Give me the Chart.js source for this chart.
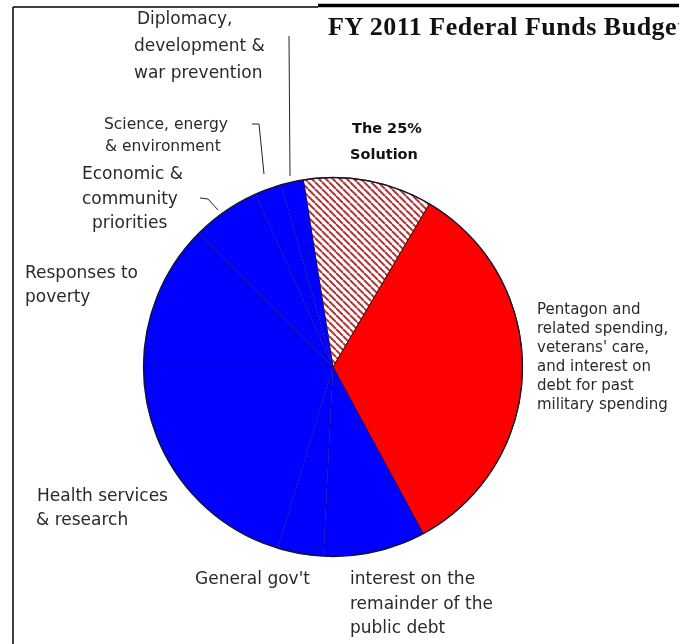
<!DOCTYPE html>
<html>
<head>
<meta charset="utf-8">
<script src="https://cdn.jsdelivr.net/npm/chart.js@4/dist/chart.umd.min.js"></script>
<style>
  html, body { margin: 0; padding: 0; background: #fff; }
  #wrap { position: relative; width: 679px; height: 644px; overflow: hidden; }
  #pie { position: absolute; left: 0; top: 0; }
  .lbl { position: absolute; font-family: "DejaVu Sans", Verdana, sans-serif; color: #2a2a2a; line-height: 20px; white-space: nowrap; }
  .bold { font-weight: bold; color: #111; }
  #title { position: absolute; left: 328px; top: 12px; font: bold 26px "Liberation Serif", "Times New Roman", serif; color: #111; white-space: nowrap; letter-spacing: 0.5px; }
  svg { position: absolute; left: 0; top: 0; }
</style>
</head>
<body>
<div id="wrap">
  <canvas id="pie" width="679" height="644"></canvas>
  <svg width="679" height="644">
    <!-- frame -->
    <line x1="13" y1="7" x2="318" y2="7" stroke="#000" stroke-width="1.5"/>
    <line x1="13" y1="7" x2="13" y2="644" stroke="#000" stroke-width="1.5"/>
    <line x1="318" y1="5.5" x2="679" y2="5.5" stroke="#000" stroke-width="3.5"/>
    <!-- leader lines -->
    <polyline points="289,36 290,176" fill="none" stroke="#222" stroke-width="1"/>
    <polyline points="252,124 259,124 264,174" fill="none" stroke="#222" stroke-width="1"/>
    <polyline points="200,198 208,199 218,210" fill="none" stroke="#222" stroke-width="1"/>
  </svg>
  <div id="title">FY 2011 Federal Funds Budget</div>
  <div id="labels"></div>
</div>
<script>
// budget shares, clockwise from the hatched wedge (percent of federal funds)
const categories = [
  'The 25% Solution',
  "Pentagon and related spending, veterans' care, and interest on debt for past military spending",
  'Interest on the remainder of the public debt',
  "General gov't",
  'Health services & research',
  'Responses to poverty',
  'Economic & community priorities',
  'Science, energy & environment',
  'Diplomacy, development & war prevention'
];
const shares = [11.0, 33.6, 8.7, 3.9, 20.3, 12.5, 5.8, 2.3, 1.9];

// label text lines: [text, left, y-center, font px, bold?]
const labelLines = [
  ['Diplomacy,', 137, 18, 17],
  ['development &', 134, 45, 17],
  ['war prevention', 134, 72, 17],
  ['Science, energy', 104, 124, 15.5],
  ['& environment', 105, 146, 15.5],
  ['The 25%', 352, 128, 14.5, true],
  ['Solution', 350, 154, 14.5, true],
  ['Economic &', 82, 173, 17],
  ['community', 82, 198, 17],
  ['priorities', 92, 222, 17],
  ['Responses to', 25, 272, 17],
  ['poverty', 25, 296, 17],
  ['Health services', 37, 495, 17],
  ['& research', 36, 519, 17],
  ["General gov't", 195, 578, 17],
  ['interest on the', 350, 578, 17],
  ['remainder of the', 350, 603, 17],
  ['public debt', 350, 627, 17],
  ['Pentagon and', 537, 309, 15],
  ['related spending,', 537, 328, 15],
  ["veterans' care,", 537, 347, 15],
  ['and interest on', 537, 366, 15],
  ['debt for past', 537, 385, 15],
  ['military spending', 537, 404, 15]
];

const box = document.getElementById('labels');
labelLines.forEach(([t, x, y, fs, b]) => {
  const d = document.createElement('div');
  d.className = 'lbl' + (b ? ' bold' : '');
  d.textContent = t;
  d.style.fontSize = fs + 'px';
  d.style.left = x + 'px';
  d.style.top = (y - 10) + 'px';
  box.appendChild(d);
});

// hatch pattern for the 25% wedge
const makeHatch = () => {
  const n = 7;
  const c = document.createElement('canvas');
  c.width = n; c.height = n;
  const g = c.getContext('2d');
  g.fillStyle = '#fff';
  g.fillRect(0, 0, n, n);
  g.strokeStyle = '#b03838';
  g.lineWidth = 2;
  [-n, 0, n].forEach(k => {
    g.beginPath();
    g.moveTo(k, 0);
    g.lineTo(k + n, n);
    g.stroke();
  });
  return g.createPattern(c, 'repeat');
};

const ctx = document.getElementById('pie').getContext('2d');
const fills = [makeHatch(), '#ff0000', '#0000ff', '#0000ff', '#0000ff', '#0000ff', '#0000ff', '#0000ff', '#0000ff'];
const blueEdge = 'rgba(0,0,110,0.3)';
const edges = ['#3a1010', '#3a1010', blueEdge, blueEdge, blueEdge, blueEdge, blueEdge, blueEdge, blueEdge];

// dark outline round the whole pie
const outline = {
  id: 'outline',
  afterDatasetsDraw(chart) {
    const arc = chart.getDatasetMeta(0).data[0];
    if (!arc) return;
    const c = chart.ctx;
    c.save();
    c.beginPath();
    c.arc(arc.x, arc.y, arc.outerRadius, 0, Math.PI * 2);
    c.strokeStyle = '#15152a';
    c.lineWidth = 1.3;
    c.stroke();
    c.restore();
  }
};

new Chart(ctx, {
  type: 'pie',
  data: {
    labels: categories,
    datasets: [{
      data: shares,
      backgroundColor: fills,
      borderColor: edges,
      borderWidth: 1
    }]
  },
  options: {
    responsive: false,
    animation: false,
    rotation: -9,
    layout: { padding: { left: 143, right: 156, top: 177, bottom: 87 } },
    plugins: { legend: { display: false }, tooltip: { enabled: false } }
  },
  plugins: [outline]
});
</script>
</body>
</html>
